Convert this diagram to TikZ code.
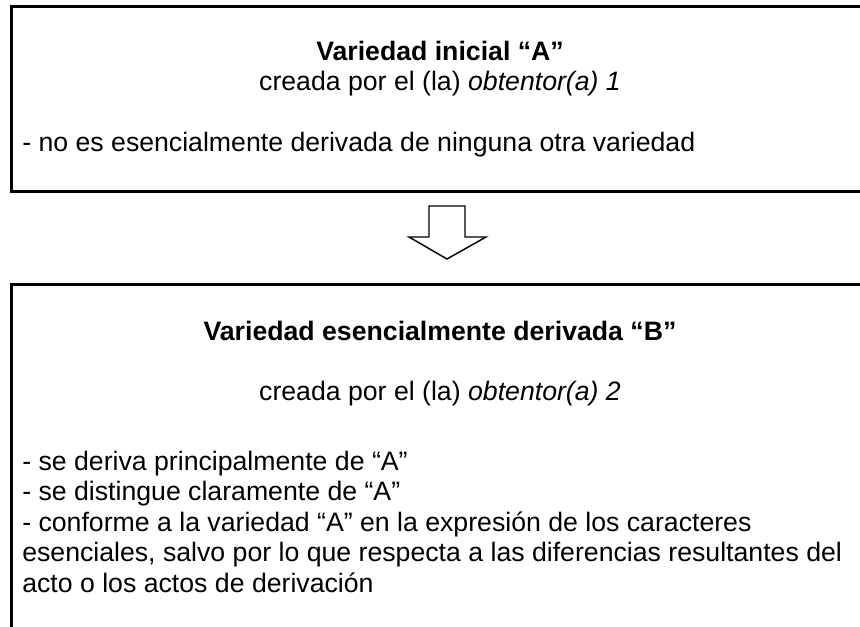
\documentclass[tikz,border=0pt]{standalone}
\usepackage{fontspec}
\setmainfont{Liberation Sans}
\usetikzlibrary{calc}
\begin{document}
\begin{tikzpicture}[x=0.75pt,y=-0.75pt,
  panel/.style={draw=black,line width=2.25pt,rectangle,inner sep=0pt,anchor=north west},
  txt/.style={inner sep=0pt,font=\fontsize{20pt}{23pt}\selectfont},
  blockarrow/.style={draw=black,line width=1.1pt,fill=white,line join=miter}]
\useasboundingbox (0,0) rectangle (860,627);
\clip (0,0) rectangle (860,627);
% boxes
\node[panel,minimum width=653pt,minimum height=138.4pt] (boxA) at (9.5,5.5) {};
\node[panel,minimum width=653pt,minimum height=270pt] (boxB) at (9.5,283) {};
% block arrow from box A to box B
\coordinate (arrtop) at (447,206);
\coordinate (arrtip) at (447,259);
\draw[blockarrow] ($(arrtop)+(-18,0)$) -- ($(arrtop)+(18,0)$) -- ($(arrtop)+(18,31)$)
  -- ($(arrtop)+(39,31)$) -- (arrtip) -- ($(arrtop)+(-38,31)$) -- ($(arrtop)+(-18,31)$) -- cycle;
% box A texts
\node[txt,anchor=base,font=\fontsize{20pt}{23pt}\selectfont\bfseries] (tA) at (440,61) {Variedad inicial “A”};
\node[txt,anchor=base] (cA) at (440,91) {creada por el (la) \textit{obtentor(a) 1}};
\node[txt,anchor=base west] (dA) at (22,152) {- no es esencialmente derivada de ninguna otra variedad};
% box B texts
\node[txt,anchor=base,font=\fontsize{20pt}{23pt}\selectfont\bfseries] (tB) at (440,340) {Variedad esencialmente derivada “B”};
\node[txt,anchor=base] (cB) at (440,400) {creada por el (la) \textit{obtentor(a) 2}};
\node[txt,anchor=base west] (l1) at (22,470) {- se deriva principalmente de “A”};
\node[txt,anchor=base west] (l2) at (22,500) {- se distingue claramente de “A”};
\node[txt,anchor=base west] (l3) at (22,531) {- conforme a la variedad “A” en la expresión de los caracteres};
\node[txt,anchor=base west] (l4) at (22,561) {esenciales, salvo por lo que respecta a las diferencias resultantes del};
\node[txt,anchor=base west] (l5) at (22,592) {acto o los actos de derivación};
\end{tikzpicture}
\end{document}
